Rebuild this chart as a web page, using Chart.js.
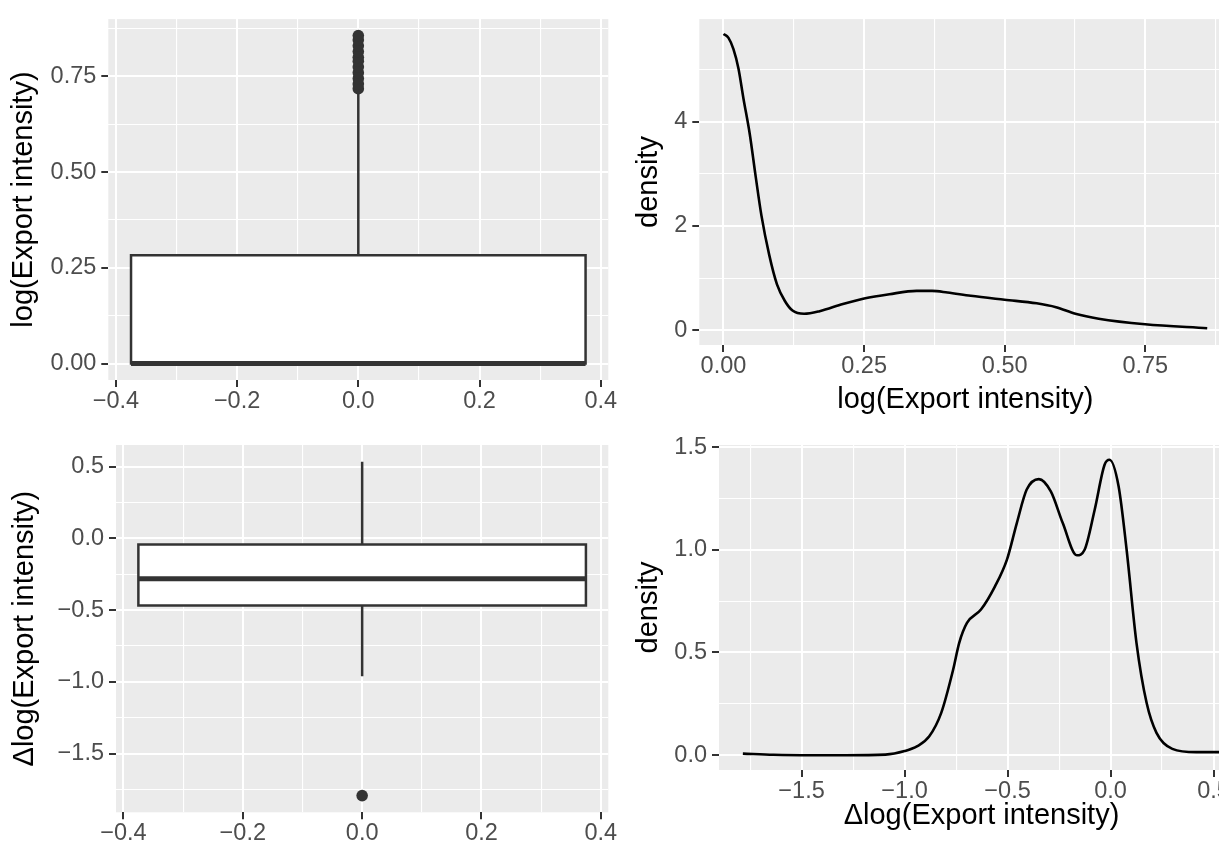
<!DOCTYPE html>
<html>
<head>
<meta charset="utf-8">
<script src="https://cdn.jsdelivr.net/npm/chart.js@4.4.1/dist/chart.umd.min.js"></script>
<style>
  body { margin: 0; background: #fff; width: 1219px; height: 843px; overflow: hidden; position: relative; }
  canvas { position: absolute; }
</style>
</head>
<body>
<canvas id="levelBox" width="640" height="421" style="left:0;top:0"></canvas>
<canvas id="levelDens" width="628" height="421" style="left:612px;top:0"></canvas>
<canvas id="diffBox" width="640" height="422" style="left:0;top:421px"></canvas>
<canvas id="diffDens" width="640" height="422" style="left:612px;top:421px"></canvas>
<script>
// boxplot of log(Export intensity): q1, median, q3 / whisker ends / outliers
const levelStats = [0, 0, 0.283];
const levelWhiskers = [0, 0.716];
const levelOutliers = [0.718, 0.73, 0.745, 0.76, 0.775, 0.79, 0.80, 0.815, 0.83, 0.845, 0.857];

// boxplot of Δlog(Export intensity)
const diffStats = [-0.468, -0.281, -0.042];
const diffWhiskers = [-0.961, 0.535];
const diffOutliers = [-1.793];

// density of log(Export intensity)
const levelX = [0, 0.0089, 0.0177, 0.0266, 0.0354, 0.0469, 0.0572, 0.0675, 0.0813, 0.0951, 0.1089, 0.1227,
  0.1433, 0.1709, 0.2123, 0.2502, 0.295, 0.3432, 0.3708, 0.3983, 0.4397, 0.4997, 0.5569, 0.5913, 0.6258,
  0.6671, 0.7498, 0.8601];
const levelDensity = [5.683, 5.607, 5.39, 5.02, 4.45, 3.75, 2.951, 2.198, 1.444, 0.879, 0.565, 0.377,
  0.314, 0.364, 0.502, 0.609, 0.691, 0.754, 0.754, 0.722, 0.659, 0.584, 0.515, 0.44, 0.314,
  0.22, 0.113, 0.038];

// density of Δlog(Export intensity)
const diffX = [-1.785, -1.636, -1.45, -1.287, -1.093, -1.0, -0.938, -0.88, -0.822, -0.764, -0.735, -0.697,
  -0.629, -0.561, -0.503, -0.455, -0.407, -0.348, -0.29, -0.232, -0.164, -0.126, -0.077, -0.029, -0.005,
  0.039, 0.078, 0.126, 0.175, 0.223, 0.3, 0.416, 0.532];
const diffDensity = [0.008, 0.002, 0, 0, 0.003, 0.02, 0.044, 0.092, 0.206, 0.417, 0.546, 0.644,
  0.709, 0.822, 0.952, 1.13, 1.293, 1.344, 1.284, 1.13, 0.973, 1.0, 1.195, 1.414, 1.438,
  1.309, 1.0, 0.546, 0.255, 0.109, 0.031, 0.015, 0.015];

const BOX_HALF = 0.375;

Chart.defaults.font.family = "'Liberation Sans', Arial, Helvetica, sans-serif";
Chart.defaults.font.size = 23.5;
Chart.defaults.animation = false;

const panelBg = {
  id: 'panelBg',
  beforeDraw(chart) {
    const a = chart.chartArea, c = chart.ctx;
    c.save();
    c.fillStyle = '#EBEBEB';
    c.fillRect(a.left, a.top, a.right - a.left, a.bottom - a.top);
    c.restore();
  }
};

function expand(lo, hi) {
  const d = (hi - lo) * 0.05;
  return [lo - d, hi + d];
}

function isMajor(v, major) {
  const r = v / major;
  return Math.abs(r - Math.round(r)) < 1e-6;
}

function axis(o) {
  const major = c => !c.tick || isMajor(c.tick.value, o.major);
  return {
    type: 'linear',
    min: o.range[0],
    max: o.range[1],
    afterFit: s => { if (s.isHorizontal()) s.height = o.size; else s.width = o.size; },
    border: { display: false },
    grid: {
      color: '#FFFFFF',
      lineWidth: c => major(c) ? 2 : 1.1,
      tickColor: c => major(c) ? '#333333' : 'rgba(0,0,0,0)',
      tickWidth: 2,
      tickLength: 7
    },
    ticks: {
      stepSize: o.minor,
      includeBounds: false,
      autoSkip: false,
      maxTicksLimit: 40,
      maxRotation: 0,
      color: '#4D4D4D',
      padding: o.pad,
      callback: v => isMajor(v, o.major) ? v.toFixed(o.dec).replace('-', '\u2212') : ''
    },
    title: o.title ? {
      display: true,
      text: o.title,
      color: '#000000',
      font: { size: 29 },
      padding: { top: o.titlePad, bottom: o.titlePad }
    } : { display: false }
  };
}

function boxDatasets(stats, whisk, outl) {
  const [q1, med, q3] = stats, h = BOX_HALF;
  const seg = (pts, w, ord) => ({
    data: pts, showLine: true, borderColor: '#333333', borderWidth: w,
    pointRadius: 0, fill: false, order: ord, borderCapStyle: 'butt'
  });
  return [
    {
      data: [{x: -h, y: q1}, {x: -h, y: q3}, {x: h, y: q3}, {x: h, y: q1}, {x: -h, y: q1}],
      showLine: true, fill: 'shape', backgroundColor: '#FFFFFF', borderColor: '#333333',
      borderWidth: 2.5, borderCapStyle: 'square', borderJoinStyle: 'miter', pointRadius: 0, order: 4
    },
    seg([{x: 0, y: q3}, {x: 0, y: whisk[1]}], 2.5, 3),
    seg([{x: 0, y: q1}, {x: 0, y: whisk[0]}], 2.5, 3),
    seg([{x: -h, y: med}, {x: h, y: med}], 5, 2),
    {
      data: outl.map(v => ({x: 0, y: v})), showLine: false, pointRadius: 5.8,
      pointBackgroundColor: '#333333', pointBorderWidth: 0, order: 1
    }
  ];
}

function densityDataset(xs, ys) {
  return [{
    data: xs.map((x, i) => ({x, y: ys[i]})),
    showLine: true, borderColor: '#000000', borderWidth: 2.6, pointRadius: 0,
    cubicInterpolationMode: 'monotone', fill: false
  }];
}

function makeChart(id, datasets, padding, x, y) {
  return new Chart(document.getElementById(id), {
    type: 'scatter',
    data: { datasets },
    options: {
      responsive: false,
      devicePixelRatio: 1,
      events: [],
      layout: { padding },
      plugins: { legend: { display: false }, tooltip: { enabled: false } },
      scales: { x: axis(x), y: axis(y) }
    },
    plugins: [panelBg]
  });
}

const levelAll = levelStats.concat(levelWhiskers, levelOutliers);
const diffAll = diffStats.concat(diffWhiskers, diffOutliers);

makeChart('levelBox', boxDatasets(levelStats, levelWhiskers, levelOutliers),
  { left: 0, top: 13.3, right: 31.7, bottom: 0 },
  { range: expand(-BOX_HALF, BOX_HALF), minor: 0.1, major: 0.2, dec: 1, size: 41, pad: 0.6 },
  { range: expand(Math.min(...levelAll), Math.max(...levelAll)), minor: 0.125, major: 0.25, dec: 2,
    size: 108.3, pad: 5, title: 'log(Export intensity)', titlePad: 6.6 });

makeChart('levelDens', densityDataset(levelX, levelDensity),
  { left: 0, top: 13.3, right: 8.6, bottom: 0 },
  { range: expand(Math.min(...levelX), Math.max(...levelX)), minor: 0.125, major: 0.25, dec: 2,
    size: 76, pad: 0.6, title: 'log(Export intensity)', titlePad: 4.1 },
  { range: expand(0, Math.max(...levelDensity)), minor: 1, major: 2, dec: 0,
    size: 87.3, pad: 5, title: 'density', titlePad: 19.6 });

makeChart('diffBox', boxDatasets(diffStats, diffWhiskers, diffOutliers),
  { left: 0, top: 24, right: 31.7, bottom: 0 },
  { range: expand(-BOX_HALF, BOX_HALF), minor: 0.1, major: 0.2, dec: 1, size: 30.7, pad: 0.6 },
  { range: expand(Math.min(...diffAll), Math.max(...diffAll)), minor: 0.25, major: 0.5, dec: 1,
    size: 116, pad: 5, title: '\u0394log(Export intensity)', titlePad: 7.6 });

makeChart('diffDens', densityDataset(diffX, diffDensity),
  { left: 0, top: 24, right: 8, bottom: 0 },
  { range: expand(Math.min(...diffX), Math.max(...diffX)), minor: 0.25, major: 0.5, dec: 1,
    size: 73, pad: 0.6, title: '\u0394log(Export intensity)', titlePad: 9.6 },
  { range: expand(0, Math.max(...diffDensity)), minor: 0.25, major: 0.5, dec: 1,
    size: 107, pad: 5, title: 'density', titlePad: 19.6 });
</script>
</body>
</html>
